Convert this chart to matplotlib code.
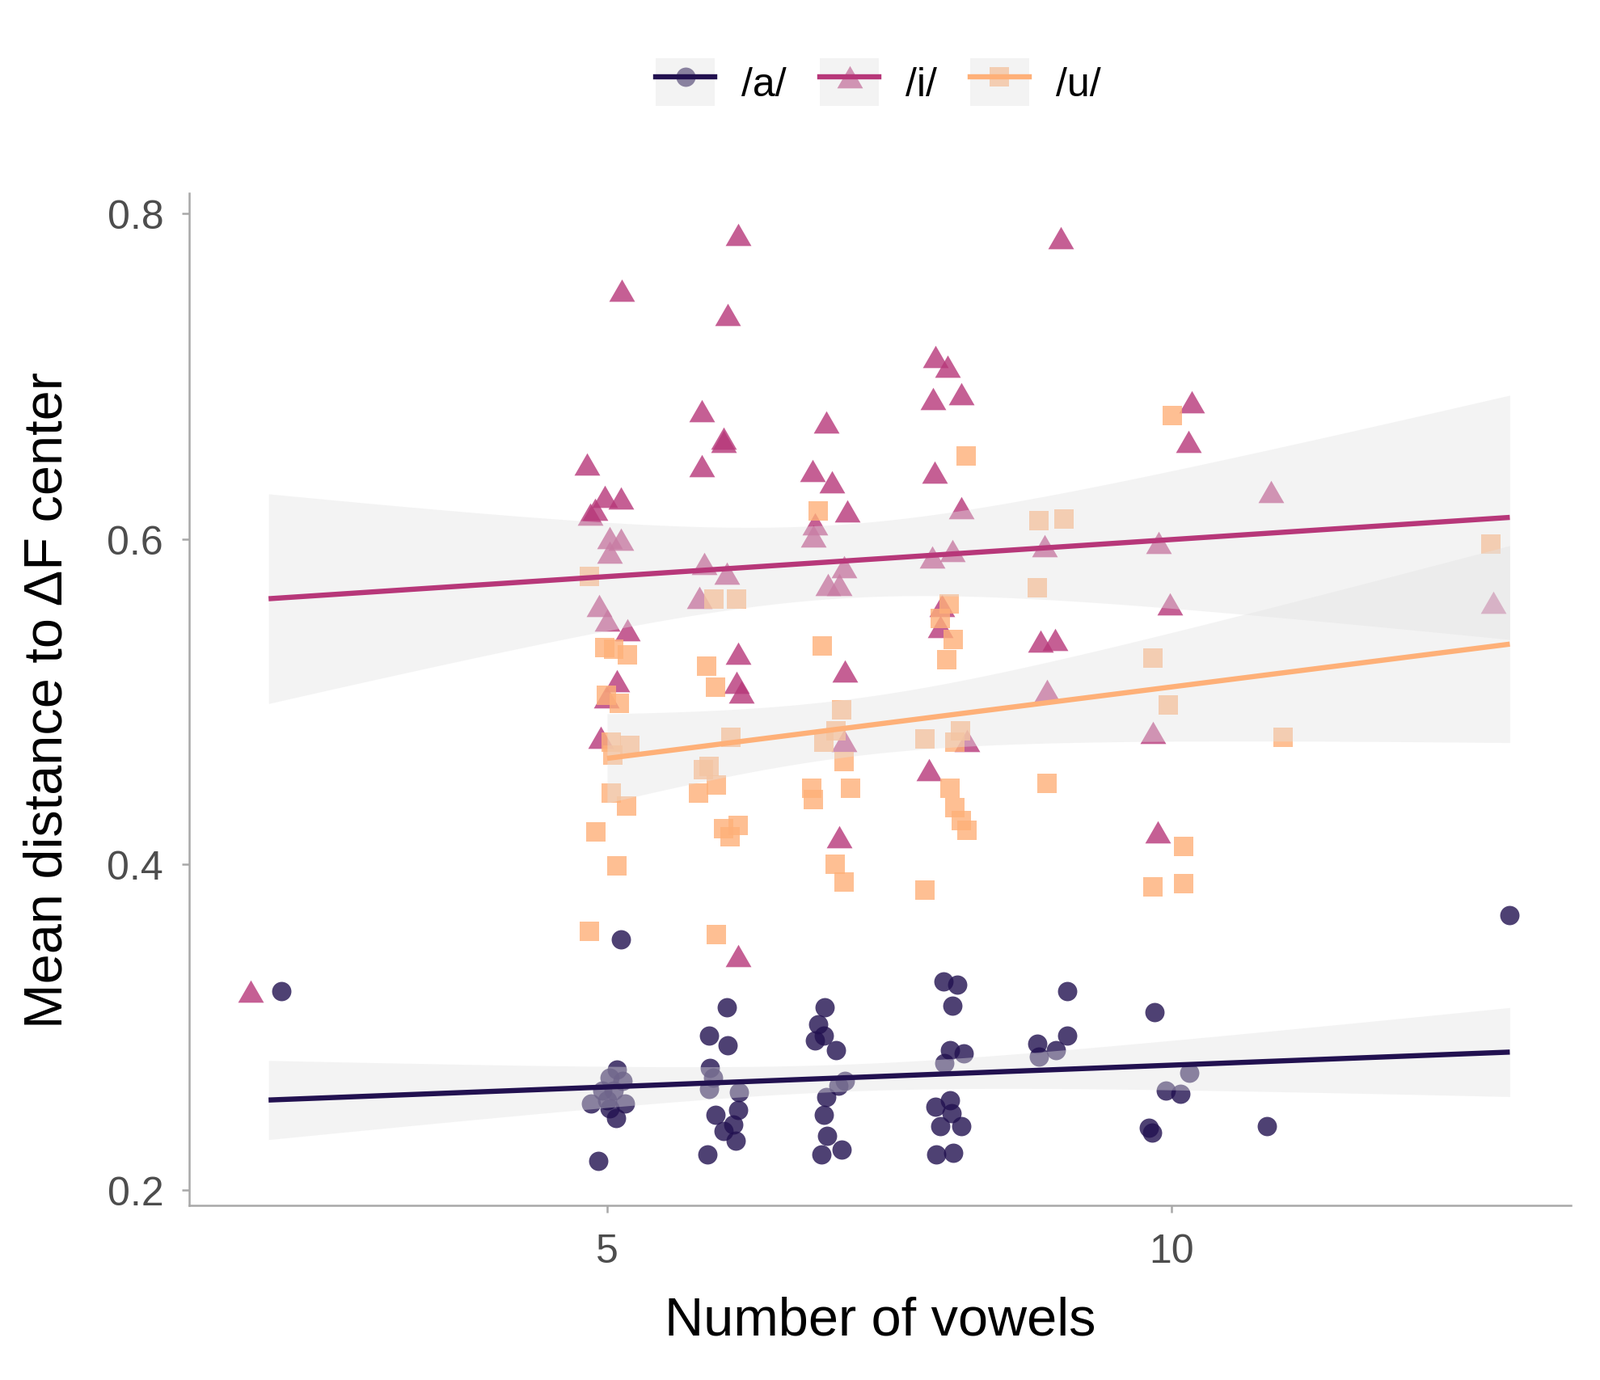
"""Mean distance to the ΔF centre against vowel inventory size, with lm fits."""
import numpy as np
import matplotlib
matplotlib.use("Agg")
import matplotlib.pyplot as plt
from matplotlib.patches import Patch
from matplotlib.lines import Line2D
from matplotlib.legend_handler import HandlerTuple

plt.rcParams["font.family"] = ["Liberation Sans", "DejaVu Sans"]

VOWELS = ["/a/", "/i/", "/u/"]
COLORS = ["#221150", "#b73779", "#feb078"]

# jittered positions (x = number of vowels)
A_X = [2.11,
       5.12, 5.09, 5.02, 5.14, 4.96, 5.06, 4.86, 5.00, 5.16, 5.02, 5.08, 4.92,
       6.06, 5.90, 6.07, 5.91, 5.94, 5.90, 6.17, 6.16, 5.96, 6.12, 6.03, 6.14, 5.89,
       6.93, 6.87, 6.92, 6.84, 7.03, 7.11, 7.05, 6.94, 6.92, 6.95, 7.08, 6.90,
       7.98, 8.10, 8.06, 8.04, 8.16, 7.99, 7.91, 8.04, 8.05, 7.95, 8.14, 7.92, 8.07,
       9.08, 8.81, 9.08, 8.98, 8.83,
       9.85, 10.16, 9.95, 10.08, 9.80, 9.83,
       10.85, 13.0]
A_Y = [0.322,
       0.354, 0.274, 0.269, 0.267, 0.261, 0.261, 0.253, 0.255, 0.253, 0.250, 0.244, 0.218,
       0.312, 0.295, 0.289, 0.275, 0.269, 0.262, 0.260, 0.249, 0.246, 0.240, 0.236, 0.230, 0.222,
       0.312, 0.302, 0.295, 0.292, 0.286, 0.267, 0.264, 0.257, 0.246, 0.233, 0.225, 0.222,
       0.328, 0.326, 0.313, 0.286, 0.284, 0.278, 0.251, 0.255, 0.247, 0.239, 0.239, 0.222, 0.223,
       0.322, 0.290, 0.295, 0.286, 0.282,
       0.309, 0.272, 0.261, 0.259, 0.238, 0.235,
       0.239, 0.369]

I_X = [1.84,
       5.13, 4.82, 4.98, 5.12, 4.89, 4.85, 5.02, 5.12, 5.02, 4.93, 5.00, 5.18, 5.09, 4.99, 4.94,
       6.16, 6.07, 5.84, 6.03, 6.03, 5.84, 5.86, 6.06, 5.82, 6.16, 6.15, 6.19, 6.16,
       6.94, 6.82, 6.99, 7.13, 6.84, 6.83, 7.10, 6.96, 7.06, 7.11, 7.10, 7.06,
       7.91, 8.02, 7.89, 8.14, 7.90, 8.14, 7.88, 8.06, 7.97, 7.95, 8.19, 7.85,
       9.02, 8.88, 8.84, 8.97, 8.90,
       10.18, 10.15, 9.89, 9.99, 9.84, 9.88,
       10.88, 12.85]
I_Y = [0.322,
       0.753, 0.646, 0.626, 0.625, 0.618, 0.615, 0.601, 0.600, 0.592, 0.559, 0.550, 0.544, 0.513, 0.503, 0.478,
       0.787, 0.738, 0.679, 0.662, 0.660, 0.645, 0.585, 0.579, 0.564, 0.530, 0.512, 0.506, 0.344,
       0.672, 0.642, 0.635, 0.617, 0.609, 0.602, 0.583, 0.572, 0.572, 0.519, 0.476, 0.417,
       0.712, 0.706, 0.686, 0.689, 0.641, 0.619, 0.589, 0.593, 0.559, 0.546, 0.476, 0.458,
       0.785, 0.596, 0.537, 0.538, 0.507,
       0.684, 0.660, 0.598, 0.560, 0.481, 0.420,
       0.629, 0.561]

U_X = [4.84, 5.06, 5.18, 4.98, 4.99, 5.11, 5.04, 5.20, 5.05, 5.04, 5.17, 4.90, 5.09, 4.84,
       5.95, 6.15, 5.88, 5.96, 6.10, 5.85, 5.90, 5.81, 5.97, 6.03, 6.16, 6.09, 5.97,
       6.87, 6.91, 7.08, 7.03, 6.92, 7.10, 6.81, 6.83, 7.16, 7.02, 7.10,
       8.18, 8.03, 7.95, 8.07, 8.01, 7.82, 8.13, 8.08, 8.04, 8.08, 8.14, 8.19, 7.82,
       8.83, 9.05, 8.81, 8.90,
       10.01, 9.84, 9.97, 10.11, 9.84, 10.11,
       10.99, 12.83]
U_Y = [0.577, 0.532, 0.529, 0.533, 0.504, 0.499, 0.475, 0.473, 0.467, 0.444, 0.436, 0.420, 0.399, 0.359,
       0.563, 0.563, 0.522, 0.509, 0.478, 0.458, 0.460, 0.444, 0.449, 0.422, 0.424, 0.417, 0.357,
       0.617, 0.534, 0.495, 0.482, 0.475, 0.463, 0.447, 0.440, 0.447, 0.400, 0.389,
       0.651, 0.560, 0.551, 0.538, 0.526, 0.477, 0.482, 0.475, 0.447, 0.435, 0.427, 0.421, 0.384,
       0.611, 0.612, 0.570, 0.450,
       0.676, 0.527, 0.498, 0.411, 0.386, 0.388,
       0.478, 0.597]

X_TICKS = [5, 10]
Y_TICKS = [0.2, 0.4, 0.6, 0.8]

TRIANGLE = [(-1, -0.866), (1, -0.866), (0, 0.866), (-1, -0.866)]
MARKERS = ["o", TRIANGLE, "s"]
SIZES = [74, 132, 74]
RIBBON = "#e3e3e3"
LW = 2.3


def t975(df):
    z = 1.959964
    return z + (z**3 + z) / (4 * df) + (5 * z**5 + 16 * z**3 + 3 * z) / (96 * df**2)


def lm_band(x, y):
    xi = np.round(np.asarray(x))
    y = np.asarray(y)
    slope, icept = np.polyfit(xi, y, 1)
    grid = np.linspace(xi.min(), xi.max(), 120)
    pred = icept + slope * grid
    n = len(xi)
    resid = y - (icept + slope * xi)
    s = np.sqrt(np.sum(resid**2) / (n - 2))
    sxx = np.sum((xi - xi.mean())**2)
    se = s * np.sqrt(1 / n + (grid - xi.mean())**2 / sxx)
    t = t975(n - 2)
    return grid, pred, pred - t * se, pred + t * se


data = [(A_X, A_Y), (I_X, I_Y), (U_X, U_Y)]

fig = plt.figure(figsize=(9.895, 8.54), dpi=200)
ax = fig.add_axes([0.118, 0.1266, 0.864, 0.733])

for (x, y), c, m, s in zip(data, COLORS, MARKERS, SIZES):
    ax.scatter(x, y, s=s, marker=m, color=c, alpha=0.8, linewidths=0, zorder=2)

for (x, y), c in zip(data, COLORS):
    grid, pred, lo, hi = lm_band(x, y)
    ax.fill_between(grid, lo, hi, color=RIBBON, alpha=0.4, linewidth=0, zorder=3)
    ax.plot(grid, pred, color=c, lw=LW, zorder=4, solid_capstyle="butt")

ax.set_xlim(1.293, 13.544)
ax.set_ylim(0.1906, 0.8125)
ax.set_xticks(X_TICKS)
ax.set_yticks(Y_TICKS)
ax.set_yticklabels([f"{v:.1f}" for v in Y_TICKS])
for side in ("top", "right"):
    ax.spines[side].set_visible(False)
for side in ("left", "bottom"):
    ax.spines[side].set_color("#a8a8a8")
    ax.spines[side].set_linewidth(0.9)
ax.tick_params(direction="out", length=3.3, width=0.9, color="#a8a8a8",
               labelsize=18, labelcolor="#4d4d4d")
ax.tick_params(axis="x", pad=9)
ax.tick_params(axis="y", pad=8)

ax.set_xlabel("Number of vowels", fontsize=24)
ax.set_ylabel("Mean distance to ΔF center", fontsize=24)
ax.xaxis.set_label_coords(0.5, -0.114)
ax.xaxis.label.set_va("center")
ax.yaxis.set_label_coords(-0.102, 0.5)
ax.yaxis.label.set_va("center")

handles = []
for c, m, s in zip(COLORS, MARKERS, SIZES):
    pt = Line2D([], [], ls="none", marker=m, markersize=np.sqrt(s), color=c,
                alpha=0.8, markeredgewidth=0)
    bg = Patch(facecolor=RIBBON, alpha=0.4, edgecolor="none")
    ln = Line2D([], [], color=c, lw=LW)
    handles.append((pt, bg, ln))

fig.legend(handles, VOWELS, loc="center", bbox_to_anchor=(0.549, 0.940), ncol=3,
           frameon=False, fontsize=18, handlelength=1.46, handleheight=1.46,
           handletextpad=0.66, columnspacing=0.82, borderpad=0,
           handler_map={tuple: HandlerTuple(ndivide=1, pad=0)})

fig.savefig("out.png", dpi=200)
